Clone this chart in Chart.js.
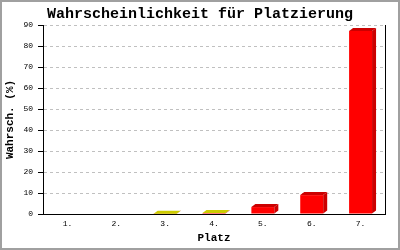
<!DOCTYPE html>
<html lang="de">
<head>
<meta charset="UTF-8">
<title>Wahrscheinlichkeit für Platzierung</title>
<script src="https://cdn.jsdelivr.net/npm/chart.js"></script>
<style>
  html, body { margin: 0; padding: 0; background: #fff; }
</style>
</head>
<body>
<canvas id="platzChart" width="400" height="250"></canvas>
<script>
// data
const platzLabels = ['1.', '2.', '3.', '4.', '5.', '6.', '7.'];
const wahrscheinlichkeit = [0, 0, 0.1, 0.5, 3.3, 9.0, 87.1];
const yMin = 0;
const yMax = 90;
const yStep = 10;

const mono = "'Liberation Mono', 'DejaVu Sans Mono', monospace";

// draws the 3d side/top faces of each bar plus the outer frame
const bars3d = {
  id: 'bars3d',
  afterDatasetsDraw(chart) {
    const ctx = chart.ctx;
    const dx = 4, dy = 3;
    ctx.save();
    chart.getDatasetMeta(0).data.forEach((bar, i) => {
      const v = wahrscheinlichkeit[i];
      if (!v) return;
      const p = bar.getProps(['x', 'y', 'base', 'width'], true);
      const l = p.x - p.width / 2, r = p.x + p.width / 2;
      // side
      ctx.fillStyle = '#cc0000';
      ctx.beginPath();
      ctx.moveTo(r, p.y);
      ctx.lineTo(r + dx, p.y - dy);
      ctx.lineTo(r + dx, p.base - dy);
      ctx.lineTo(r, p.base);
      ctx.closePath();
      ctx.fill();
      // top
      ctx.fillStyle = v < 1 ? '#cccc00' : '#cc0000';
      ctx.beginPath();
      ctx.moveTo(l, p.y);
      ctx.lineTo(l + dx, p.y - dy);
      ctx.lineTo(r + dx, p.y - dy);
      ctx.lineTo(r, p.y);
      ctx.closePath();
      ctx.fill();
    });
    ctx.restore();
  },
  afterDraw(chart) {
    const ctx = chart.ctx;
    ctx.save();
    ctx.strokeStyle = '#a0a0a0';
    ctx.lineWidth = 2;
    ctx.strokeRect(1, 1, chart.width - 2, chart.height - 2);
    ctx.restore();
  }
};

new Chart(document.getElementById('platzChart'), {
  type: 'bar',
  data: {
    labels: platzLabels,
    datasets: [{
      data: wahrscheinlichkeit,
      backgroundColor: '#ff0000',
      borderWidth: 0,
      barPercentage: 0.47,
      categoryPercentage: 1
    }]
  },
  options: {
    responsive: false,
    animation: false,
    layout: { padding: 0 },
    plugins: {
      legend: { display: false },
      tooltip: { enabled: false },
      title: {
        display: true,
        text: 'Wahrscheinlichkeit für Platzierung',
        color: '#000',
        font: { family: mono, size: 15, weight: 'bold' },
        padding: { top: 5, bottom: 2 }
      }
    },
    scales: {
      x: {
        grid: { display: false, drawTicks: false },
        border: { color: '#000', width: 1 },
        ticks: { color: '#000', font: { family: mono, size: 8 }, padding: 5, maxRotation: 0 },
        title: {
          display: true,
          text: 'Platz',
          color: '#000',
          font: { family: mono, size: 11, weight: 'bold' },
          padding: { top: 0, bottom: 5 }
        },
        afterFit(scale) { scale.height = 36; }
      },
      y: {
        min: yMin,
        max: yMax,
        grid: { color: '#c0c0c0', tickColor: '#000', tickLength: 5 },
        border: { color: '#000', width: 1, dash: [3, 3] },
        ticks: { stepSize: yStep, color: '#000', font: { family: mono, size: 8 }, padding: 5 },
        title: {
          display: true,
          text: 'Wahrsch. (%)',
          color: '#000',
          font: { family: mono, size: 11, weight: 'bold' },
          padding: { top: 4, bottom: 0 }
        },
        afterFit(scale) { scale.width = 43; }
      },
      // right frame line of the plot
      y2: {
        display: true,
        position: 'right',
        min: yMin,
        max: yMax,
        grid: { display: false, drawTicks: false },
        border: { color: '#000', width: 1 },
        ticks: { display: false },
        afterFit(scale) { scale.width = 15; }
      }
    }
  },
  plugins: [bars3d]
});
</script>
</body>
</html>
